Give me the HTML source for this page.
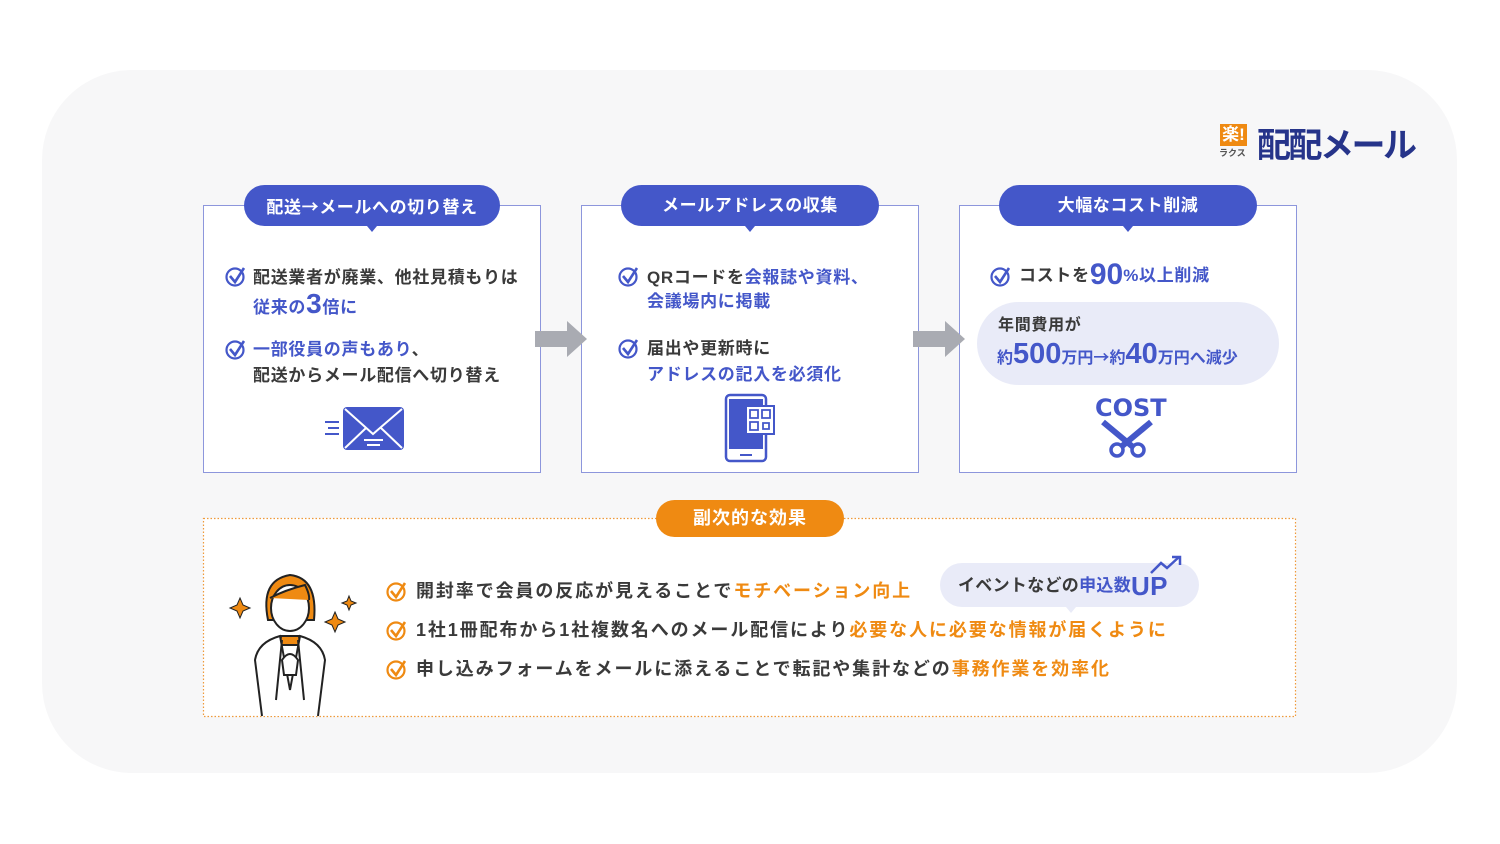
<!DOCTYPE html>
<html><head><meta charset="utf-8"><style>
*{margin:0;padding:0;box-sizing:border-box}
body{width:1500px;height:844px;background:#fff;position:relative;font-family:"Liberation Sans","Noto Sans CJK JP",sans-serif;color:#3a3a3a;font-weight:bold;overflow:hidden}
.a{position:absolute;white-space:nowrap}
.bg{left:42px;top:70px;width:1415px;height:703px;background:#f7f7f8;border-radius:90px}
.box{background:#fff;border:1.5px solid #8d96dc;width:338px;height:268px;top:205px}
.pill{background:#4457c9;color:#fff;height:41px;width:256px;top:185px;border-radius:21px;font-size:17px;text-align:center;line-height:41px;letter-spacing:0.6px}
.pill:after{content:"";position:absolute;left:50%;bottom:-6px;margin-left:-5px;border:5px solid transparent;border-top:6px solid #4457c9;border-bottom:0}
.t{font-size:17px;line-height:25px;letter-spacing:0.7px}
.b{color:#4457c9}
.o{color:#ef8a12}
.ar{font-family:"Noto Sans CJK JP",sans-serif}
.bt{font-size:18px!important;letter-spacing:1.9px!important}
</style></head><body>
<div class="a bg"></div>
<div class="a" style="left:1220px;top:124px;width:27px;height:22px;background:#ef8a12;color:#fff;font-size:17px;line-height:22px;text-align:center">楽!</div>
<div class="a" style="left:1219px;top:146px;font-size:9px;color:#555">ラクス</div>
<div class="a" style="left:1257px;top:118px;font-size:34px;color:#26348a;letter-spacing:-2.5px">配配メール</div>

<div class="a box" style="left:203px"></div>
<div class="a box" style="left:581px"></div>
<div class="a box" style="left:959px"></div>
<div class="a pill" style="left:244px">配送<span class="ar">→</span>メールへの切り替え</div>
<div class="a pill" style="left:621px;width:258px">メールアドレスの収集</div>
<div class="a pill" style="left:999px;width:258px">大幅なコスト削減</div>

<svg class="a" style="left:0;top:0" width="1500" height="844">
<defs><g id="ck"><circle cx="10" cy="11" r="8.5" fill="none" stroke="currentColor" stroke-width="2.2"/><path d="M5 10 L10 16 L19 2" fill="none" stroke="currentColor" stroke-width="2.6"/></g></defs>
<g color="#4457c9">
<use href="#ck" x="225" y="266"/><use href="#ck" x="225" y="339"/>
<use href="#ck" x="618" y="266"/><use href="#ck" x="618" y="338"/>
<use href="#ck" x="990" y="266"/>
</g>
<polygon points="535,331 567,331 567,321 587,339 567,357 567,347 535,347" fill="#a9abb2"/>
<polygon points="913,331 945,331 945,321 965,339 945,357 945,347 913,347" fill="#a9abb2"/>
<rect x="343" y="407" width="61" height="43" rx="4" fill="#4457c9"/>
<path d="M345 409 L373 434 L402 409 M345 448 L366 428 M402 448 L381 428" stroke="#fff" stroke-width="2" fill="none"/>
<path d="M364 440 H383 M367 445 H380" stroke="#fff" stroke-width="2"/>
<path d="M325 422 H339 M328 428 H339 M325 434 H339" stroke="#4457c9" stroke-width="2"/>
<rect x="726" y="395" width="40" height="66" rx="4" fill="none" stroke="#4457c9" stroke-width="2.5"/>
<rect x="729" y="399" width="34" height="50" fill="#4457c9"/>
<rect x="746" y="406" width="28" height="28" fill="#fff" stroke="#4457c9" stroke-width="2"/>
<path d="M750 410h8v8h-8zM762 410h8v8h-8zM750 422h8v8h-8zM763 423h6v6h-6z" fill="none" stroke="#4457c9" stroke-width="1.8"/>
<path d="M740 455 H752" stroke="#4457c9" stroke-width="2"/>
<path d="M1103 422 L1139 452 M1151 422 L1115 452" stroke="#4457c9" stroke-width="6"/>
<circle cx="1117" cy="450" r="6" fill="#fff" stroke="#4457c9" stroke-width="3.5"/>
<circle cx="1138" cy="450" r="6" fill="#fff" stroke="#4457c9" stroke-width="3.5"/>
<path d="M1227 325 L1238 336 L1244 331 L1254 340" stroke="#4457c9" stroke-width="2.5" fill="none"/>
<path d="M1247 342 H1257 V333" stroke="#4457c9" stroke-width="2.5" fill="none"/>
<rect x="203.5" y="518.5" width="1092" height="198" fill="#fff" stroke="#ef9a3a" stroke-width="1.2" stroke-dasharray="1.5 2"/>
<g color="#ef8a12">
<use href="#ck" x="386" y="581"/><use href="#ck" x="386" y="620"/><use href="#ck" x="386" y="659"/>
</g>
<g stroke="#222" stroke-width="2" fill="none">
<path d="M268 620 Q260 580 290 575 Q318 578 314 620 Z" fill="#ef8a12"/>
<ellipse cx="290" cy="608" rx="19" ry="23" fill="#fff"/>
<path d="M270 598 Q285 590 305 585 Q310 595 309 600" fill="#ef8a12"/>
<path d="M281 636 H299 L300 645 H280 Z" fill="#ef8a12"/>
<path d="M262 716 L255 660 Q258 642 280 636 L290 690 L300 636 Q322 642 325 660 L318 716" fill="#fff"/>
<path d="M282 640 L276 700 M298 640 L304 700"/>
<path d="M282 660 Q290 648 298 660 L296 675 H284 Z" fill="#fff"/>
</g>
<g fill="#ef8a12" stroke="#222" stroke-width="1">
<path d="M240 598 l3 7 7 3 -7 3 -3 7 -3 -7 -7 -3 7 -3z"/>
<path d="M349 596 l2 5 5 2 -5 2 -2 5 -2 -5 -5 -2 5 -2z"/>
<path d="M335 612 l3 7 7 3 -7 3 -3 7 -3 -7 -7 -3 7 -3z"/>
</g>
</svg>

<div class="a t" style="left:253px;top:265px">配送業者が廃業、他社見積もりは</div>
<div class="a t b" style="left:253px;top:291px">従来の<span style="font-size:28px">3</span>倍に</div>
<div class="a t b" style="left:253px;top:337px">一部役員の声もあり<span style="color:#3a3a3a">、</span></div>
<div class="a t" style="left:253px;top:363px">配送からメール配信へ切り替え</div>

<div class="a t" style="left:647px;top:265px">QRコードを<span class="b">会報誌や資料、</span></div>
<div class="a t b" style="left:647px;top:289px">会議場内に掲載</div>
<div class="a t" style="left:647px;top:336px">届出や更新時に</div>
<div class="a t b" style="left:647px;top:362px">アドレスの記入を必須化</div>

<div class="a t" style="left:1019px;top:262px">コストを<span class="b" style="font-size:30px;vertical-align:-3px;letter-spacing:0">90</span><span class="b">%以上削減</span></div>
<div class="a" style="left:977px;top:302px;width:302px;height:83px;border-radius:42px;background:#e9ebf8"></div>
<div class="a t" style="left:998px;top:313px;font-size:16px">年間費用が</div>
<div class="a b" style="left:997px;top:338px;font-size:16px">約<span style="font-size:29px">500</span>万円<span class="ar">→</span>約<span style="font-size:29px">40</span>万円へ減少</div>
<div class="a b" style="left:1095px;top:394px;font-size:24px;font-family:'DejaVu Sans',sans-serif">COST</div>

<div class="a" style="left:656px;top:500px;width:188px;height:37px;border-radius:19px;background:#ef8a12;color:#fff;font-size:18px;text-align:center;line-height:37px;letter-spacing:1px">副次的な効果</div>

<div class="a" style="left:940px;top:563px;width:259px;height:44px;border-radius:22px;background:#e9ebf8"></div>
<div class="a" style="left:1066px;top:607px;border:5px solid transparent;border-top:6px solid #e9ebf8"></div>
<div class="a t" style="left:958px;top:573px;font-size:17px;letter-spacing:0.3px">イベントなどの<span class="b">申込数</span><span class="b" style="font-size:26px;vertical-align:-4px">UP</span></div>
<svg class="a" style="left:1145px;top:550px" width="40" height="30"><path d="M6 23 L16 13 L22 18 L34 7" stroke="#4457c9" stroke-width="2.5" fill="none"/><path d="M27 7 H35 V15" stroke="#4457c9" stroke-width="2.5" fill="none"/></svg>

<div class="a t bt" style="left:416px;top:579px">開封率で会員の反応が見えることで<span class="o">モチベーション向上</span></div>
<div class="a t bt" style="left:416px;top:618px">1社1冊配布から1社複数名へのメール配信により<span class="o">必要な人に必要な情報が届くように</span></div>
<div class="a t bt" style="left:416px;top:657px">申し込みフォームをメールに添えることで転記や集計などの<span class="o">事務作業を効率化</span></div>
</body></html>
